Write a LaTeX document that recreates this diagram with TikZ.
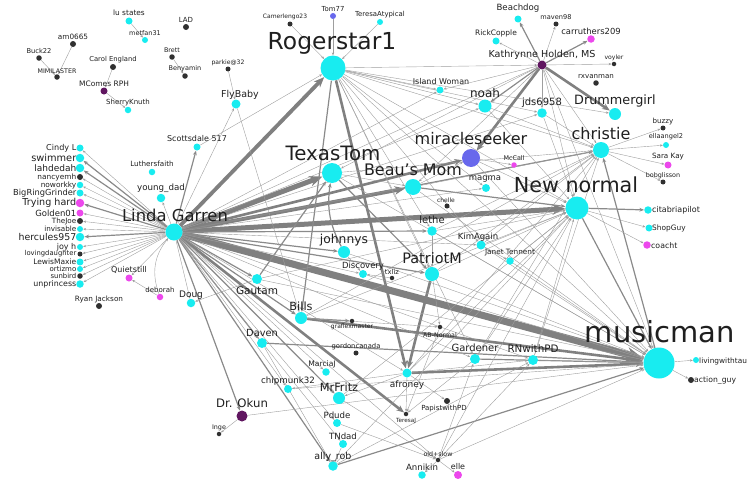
\documentclass[tikz,border=0pt]{standalone}
\usepackage{fontspec}
\setmainfont{DejaVu Sans}
\usetikzlibrary{arrows.meta}

\definecolor{vcyan}{RGB}{24,236,240}
\definecolor{vdark}{RGB}{48,48,48}
\definecolor{vpink}{RGB}{236,72,236}
\definecolor{vplum}{RGB}{96,22,96}
\definecolor{vblue}{RGB}{104,104,236}
\newcommand{\fsz}[1]{\fontsize{#1}{#1}\selectfont}
\pgfdeclarelayer{edges}
\pgfsetlayers{edges,main}

\begin{document}
\begin{tikzpicture}[
		x=1pt, y=-1pt,
		vtx/.style={circle, inner sep=0pt, draw=none},
		cyn/.style={vtx, fill=vcyan},
		drk/.style={vtx, fill=vdark},
		pnk/.style={vtx, fill=vpink},
		plm/.style={vtx, fill=vplum},
		blu/.style={vtx, fill=vblue},
		lbl/.style={inner sep=0pt, text=black!88},
		tip/.style={-{Stealth[length=2pt 2.2, width=1.6pt 1.8]}},
		e1/.style={tip, draw=black!38, line width=0.4pt},
		e2/.style={tip, draw=black!46, line width=1.2pt},
		e3/.style={tip, draw=black!50, line width=2.6pt},
		e4/.style={tip, draw=black!50, line width=3.8pt},
		e5/.style={tip, draw=black!50, line width=5pt},
		e6/.style={tip, draw=black!50, line width=7pt}
		]
		\useasboundingbox (0,0) rectangle (755,479);

		% =========================================================
		% Vertices
		% =========================================================
		\foreach \id/\st/\d/\x/\y in {
			lu/cyn/7/129/21, metfan/cyn/6/145/40, lad/drk/6/186/27,
			brett/drk/5.5/172/57, benya/drk/5.5/185/76, am/drk/6/73/44,
			buck/drk/5.5/39/58, mimi/drk/5.5/57/77, carol/drk/6/113/67,
			mcomes/plm/7/104/91, sherry/cyn/6.5/128/110, parkie/drk/5/228/69,
			fly/cyn/9/236/104,
			camer/drk/5/290/24, tom/blu/6/333/16, teresaA/cyn/6/380/22,
			roger/cyn/25/333/68, island/cyn/7/440/90,
			beach/cyn/7/518/19, maven/drk/5/556/24, carr/pnk/7.5/591/39,
			rick/cyn/7/496/41, kath/plm/9/542/65, voyler/drk/4.5/614/64,
			rxvan/drk/5.5/596/83, noah/cyn/13/485/106, jds/cyn/9.5/542/113,
			drum/cyn/12/615/114, buzzy/drk/5/663/128, ella/cyn/6/666/145,
			sara/pnk/7/668/165, bob/drk/5/663/182, christie/cyn/16/601/150,
			miracle/blu/18/471/158, mccall/pnk/5.5/514/165, magma/cyn/8/486/188,
			chelle/drk/5/447/206, newn/cyn/23/577/208, citab/cyn/7.5/648/210,
			shop/cyn/7/649/228, coacht/pnk/7.5/647/245,
			texas/cyn/20/332/173, beau/cyn/16/413/187, lethe/cyn/9.5/432/231,
			kim/cyn/9/481/245, janet/cyn/7.5/510/261, johnnys/cyn/12/344/252,
			disc/cyn/8/363/274, txliz/drk/4.5/392/278, patriot/cyn/14/432/274,
			gautam/cyn/10/257/279, bills/cyn/12/301/318, graflex/drk/4.5/352/321,
			abn/drk/4.5/440/327, gordon/drk/5/356/353, gardener/cyn/10/475/359,
			rnpd/cyn/10/533/360, music/cyn/31/659/363, living/cyn/6/696/360,
			action/drk/6/691/380, daven/cyn/10/262/343, marcia/cyn/7.5/326/372,
			chip/cyn/8/288/389, mrfritz/cyn/12/339/398, afroney/cyn/9/407/373,
			papist/drk/6/447/401, teresaJ/drk/4.5/406/414, pdude/cyn/8/337/423,
			tndad/cyn/8/343/444, ally/cyn/9.5/333/466, oldslow/drk/4.5/438/460,
			annikin/cyn/7.5/422/475, elle/pnk/8/458/475, okun/plm/11/242/416,
			inge/drk/4.5/219/434,
			linda/cyn/17/174/232, scott/cyn/7/197/147, luther/cyn/6.5/152/172,
			young/cyn/8.5/161/198, quiet/pnk/7/129/278, deborah/pnk/6.5/160/297,
			doug/cyn/8.5/191/303, ryan/drk/6/99/306} {
			\node[\st, minimum size=\d pt] (\id) at (\x,\y) {};
		}

		% Linda Garren's column of followers
		\foreach \id/\txt/\st/\d/\sz/\y in {
			cindy/Cindy L/cyn/7/8.1/148, swimmer/swimmer/cyn/8.5/9.8/158,
			lahdedah/lahdedah/cyn/8.5/9/168, nancy/nancyemh/drk/6/7.4/177,
			nowork/noworkky/cyn/6.5/7.4/185, bigring/BigRingGrinder/cyn/7/8.3/193,
			trying/Trying hard/pnk/8.5/9.6/203, golden/Golden01/pnk/7/8.5/213,
			thejoe/TheJoe/drk/6/7.2/221, invis/invisable/cyn/6/7.2/229,
			herc/hercules957/cyn/8.5/9.4/237, joyh/joy h/cyn/6/8/247,
			loving/lovingdaughter/drk/5/6.8/254, lewis/LewisMaxie/cyn/7/7.5/262,
			ortiz/ortizmo/cyn/6/7/269, sunbird/sunbird/drk/5.5/6.9/276,
			unpr/unprincess/cyn/7.5/7.9/284} {
			\node[\st, minimum size=\d pt] (\id) at (80,\y) {};
			\node[lbl, anchor=east, font=\fsz{\sz}] (\id-t) at (76.5,\y) {\txt};
		}

		% =========================================================
		% Labels
		% =========================================================
		\foreach \id/\txt/\sz/\x/\y in {
			lu/lu states/7.4/129/13, metfan/metfan31/6.5/145/33, lad/LAD/7/186/20,
			brett/Brett/6.4/172/50, benya/Benyamin/6.5/185/69, am/am0665/7.3/73/37,
			buck/Buck22/6.7/39/51, mimi/MIMILASTER/6.3/57/71,
			carol/Carol England/6.8/113/60, mcomes/MComes RPH/7.5/104/84,
			sherry/SherryKnuth/7/128/103, parkie/parkie@32/6.1/228/63,
			fly/FlyBaby/9.5/240/95,
			camer/Camerlengo23/6/285/17, tom/Tom77/6.9/333/9,
			teresaA/TeresaAtypical/6.9/380/15, roger/Rogerstar1/23.4/332/43,
			island/Island Woman/8/441/82,
			beach/Beachdog/8.6/518/8, maven/maven98/6.6/556/17,
			carr/carruthers209/8.4/591/31, rick/RickCopple/7.5/496/33,
			kath/{Kathrynne Holden, MS}/9.6/542/55, voyler/voyler/6.1/614/58,
			rxvan/rxvanman/7.1/596/77, noah/noah/12/485/93, jds/jds6958/10/542/103,
			drum/Drummergirl/12.8/615/101, buzzy/buzzy/7.1/663/122,
			ella/ellaangel2/6.6/666/137, sara/Sara Kay/7.2/668/157,
			bob/bobglisson/6.4/663/176, christie/christie/16/601/134,
			miracle/miracleseeker/16/471/139, mccall/McCall/6.4/514/158,
			magma/magma/8.5/485/179, chelle/chelle/6/446/200,
			newn/New normal/20.7/576/185,
			texas/TexasTom/19.8/333/153, beau/Beau's Mom/15.9/413/170,
			lethe/lethe/10/432/220, kim/KimAgain/8.5/478/237,
			janet/Janet Tennent/7.3/510/253, johnnys/johnnys/12.3/344/240,
			disc/Discovery/8.5/363/266, txliz/txliz/6.8/392/272,
			patriot/PatriotM/14.4/432/258, gautam/Gautam/10.5/257/291,
			bills/Bills/11.3/301/306, graflex/graflexmaster/6/352/327,
			abn/AB-Normal/6.3/440/335, gordon/gordoncanada/6.8/356/347,
			gardener/Gardener/10/475/348, rnpd/RNwithPD/10.3/533/349,
			music/musicman/29/660/332, daven/Daven/9.8/262/333,
			marcia/MarciaJ/7.6/322/364, chip/chipmunk32/8.7/288/381,
			mrfritz/MrFritz/11.3/339/387, afroney/afroney/9/407/385,
			papist/PapistwithPD/7/444/409, teresaJ/TeresaJ/5.7/406/421,
			pdude/Pdude/8.6/337/415, tndad/TNdad/8.6/343/436,
			ally/ally\_rob/9.5/333/457, oldslow/old+slow/6.3/438/454,
			annikin/Annikin/8.6/422/467, elle/elle/8/458/467,
			okun/Dr. Okun/11.7/242/403, inge/Inge/6.4/219/428,
			linda/Linda Garren/16.4/175/215, scott/Scottsdale 517/8/197/139,
			luther/Luthersfaith/7.2/152/164, young/young\_dad/8.7/161/188,
			quiet/Quietstill/8/129/270, deborah/deborah/7/160/290,
			doug/Doug/9/191/295, ryan/Ryan Jackson/7.3/99/299} {
			\node[lbl, font=\fsz{\sz}] (\id-t) at (\x,\y) {\txt};
		}
		% labels set to the right of their dot
		\foreach \id/\txt/\sz/\x/\y in {
			citab/citabriapilot/8/652/210, shop/ShopGuy/7.4/652/228,
			coacht/coacht/7.8/651/246, living/livingwithtau/7.4/699/361,
			action/action\_guy/7.7/694/380} {
			\node[lbl, anchor=west, font=\fsz{\sz}] (\id-t) at (\x,\y) {\txt};
		}

		% =========================================================
		% Edges
		% =========================================================
		\begin{pgfonlayer}{edges}
			% heavy traffic out of Linda Garren
			\draw[e6] (linda) -- (music);
			\draw[e5] (linda) -- (newn);
			\draw[e5] (linda) -- (texas);
			\draw[e4] (linda) -- (roger);
			\draw[e4] (linda) -- (beau);
			\foreach \a/\b in {linda/miracle, linda/teresaJ, roger/afroney, kath/drum,
				kath/miracle, patriot/afroney, afroney/music, bills/music}
				\draw[e3] (\a) -- (\b);

			\foreach \a/\b in {kath/beach, kath/carr, kath/noah, linda/lethe, linda/patriot,
				linda/gautam, linda/bills, linda/daven, linda/mrfritz, linda/christie,
				linda/swimmer, linda/lahdedah, linda/trying, linda/herc, linda/scott,
				linda/okun, linda/johnnys, linda/ally, roger/bills, music/christie,
				newn/citab, daven/music, ally/music, gardener/music, texas/patriot,
				beau/newn, gautam/texas, bills/graflex, newn/music}
				\draw[e2] (\a) -- (\b);
			\draw[e2] (johnnys) to[bend left=18] (texas);

			% light traffic
			\foreach \a/\b in {lu/metfan, buck/mimi, am/mimi, carol/mcomes, mcomes/sherry,
				brett/benya, parkie/fly, camer/roger, tom/roger, teresaA/roger,
				linda/cindy, linda/nancy, linda/nowork, linda/bigring, linda/golden,
				linda/thejoe, linda/invis, linda/joyh, linda/loving, linda/lewis,
				linda/ortiz, linda/sunbird, linda/unpr,
				linda/young, linda/fly, linda/quiet, deborah/quiet, linda/doug,
				gautam/doug, fly/bills, scott/roger,
				kath/maven, kath/rick, kath/voyler, kath/island, kath/jds, kath/christie,
				kath/newn, kath/music, kath/beau, kath/texas, kath/linda,
				roger/noah, roger/island, roger/kath, roger/christie, roger/newn,
				roger/music, roger/jds, roger/drum, roger/patriot, roger/lethe,
				roger/magma, roger/kim, roger/gardener,
				christie/buzzy, christie/ella, christie/sara, christie/bob,
				texas/christie, beau/christie, patriot/christie, gardener/christie,
				rnpd/christie, afroney/christie, kim/christie, lethe/christie,
				jds/christie, noah/christie, bills/christie,
				newn/shop, newn/coacht, miracle/newn, patriot/newn, lethe/newn,
				kim/newn, janet/newn, gautam/newn, bills/newn, afroney/newn,
				rnpd/newn, gardener/newn, mrfritz/newn, noah/newn, jds/newn,
				music/living, music/action, rnpd/music, texas/music, gautam/music,
				patriot/music, lethe/music, johnnys/music, chip/music, okun/music,
				miracle/music, beau/music, disc/music, oldslow/music, kim/music,
				janet/music,
				linda/marcia, linda/chip, linda/oldslow, linda/tndad, linda/pdude,
				linda/gardener, linda/rnpd, linda/afroney, linda/disc, linda/kim,
				linda/magma, linda/noah, linda/island, linda/jds,
				okun/inge, miracle/mccall, beau/miracle, texas/beau, txliz/disc,
				johnnys/disc, patriot/abn, bills/abn, lethe/patriot, kim/janet,
				afroney/mrfritz, afroney/chip, afroney/papist, afroney/teresaJ,
				afroney/rnpd, gardener/teresaJ, abn/teresaJ,
				mrfritz/oldslow, pdude/oldslow, tndad/ally, daven/ally, ally/rnpd,
				ally/newn, oldslow/annikin, oldslow/elle, oldslow/gardener,
				oldslow/rnpd, oldslow/newn}
				\draw[e1] (\a) -- (\b);
			\draw[e1] (deborah) to[bend left=30] (linda);
		\end{pgfonlayer}

	\end{tikzpicture}
\end{document}
